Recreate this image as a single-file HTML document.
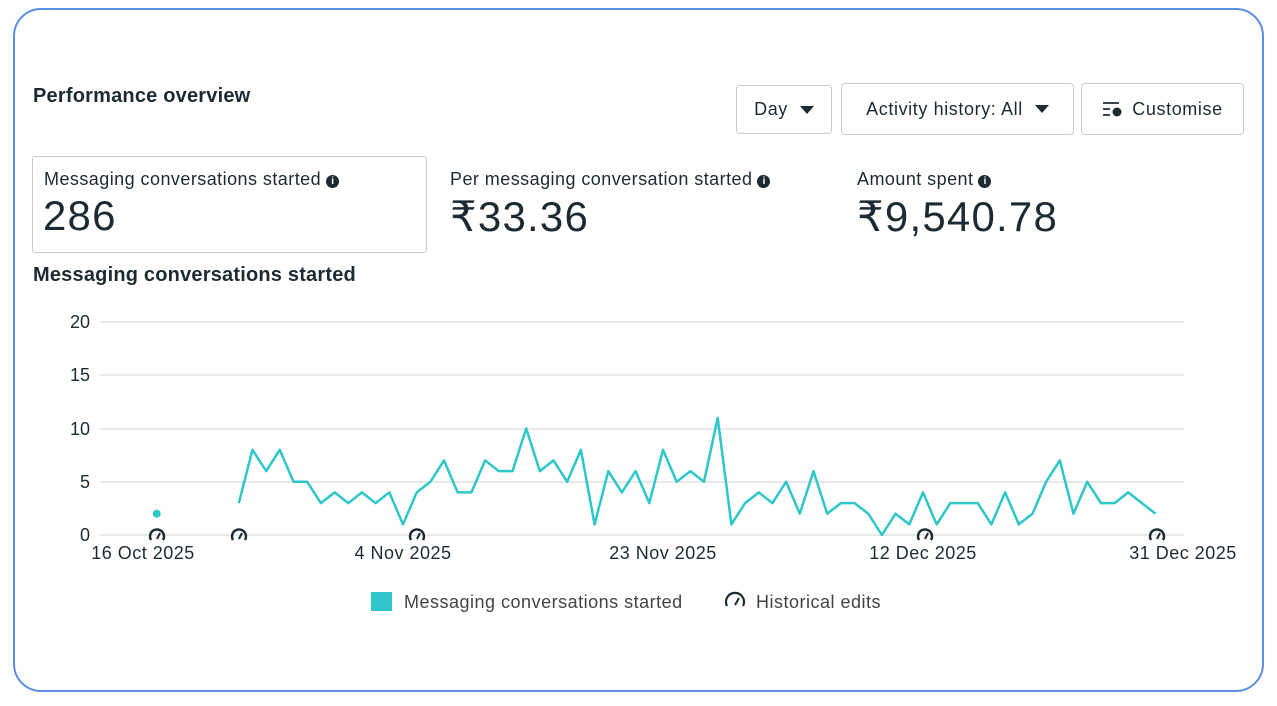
<!DOCTYPE html>
<html><head><meta charset="utf-8"><style>
body{margin:0;width:1277px;height:706px;background:#fff;font-family:"Liberation Sans",sans-serif;position:relative;overflow:hidden;color:#1c2b33}
.frame{position:absolute;left:13px;top:8px;width:1247px;height:680px;border:2.5px solid #5b8ee6;border-radius:28px}
.t{position:absolute;white-space:nowrap}
.btn{position:absolute;border:1px solid #c8ccd0;border-radius:4px;height:49px;box-sizing:border-box;font-size:18px;letter-spacing:0.6px;display:flex;align-items:center;justify-content:center;color:#1c2b33}
.tri{display:inline-block;width:0;height:0;border-left:7px solid transparent;border-right:7px solid transparent;border-top:8px solid #1c2b33;margin-left:12px}
.i{display:inline-block;width:13px;height:13px;border-radius:50%;background:#1c2b33;color:#fff;font-size:10px;text-align:center;line-height:13px;font-weight:bold;vertical-align:1px;margin-left:5px;letter-spacing:0}
.lab{font-size:18px;letter-spacing:0.45px}
.big{font-size:42px;letter-spacing:1.2px}
.ttl{font-size:20px;font-weight:bold;letter-spacing:0.2px}
</style></head><body>
<div class="frame"></div>
<div class="t ttl" style="left:33px;top:85px">Performance overview</div>
<div class="btn" style="left:736px;top:85px;width:96px">Day<span class="tri"></span></div>
<div class="btn" style="left:841px;top:83px;width:233px;height:52px">Activity history: All<span class="tri"></span></div>
<div class="btn" style="left:1081px;top:83px;width:163px;height:52px"><svg width="22" height="16" style="margin-right:8px"><path d="M1 2h16M1 8h7M1 14h7" stroke="#1c2b33" stroke-width="1.8"/><circle cx="15" cy="11" r="4.5" fill="#1c2b33"/></svg>Customise</div>
<div style="position:absolute;left:32px;top:156px;width:395px;height:97px;border:1px solid #c8ccd0;border-radius:3px;box-sizing:border-box"></div>
<div class="t lab" style="left:44px;top:169px">Messaging conversations started<span class="i">i</span></div>
<div class="t big" style="left:43px;top:192px">286</div>
<div class="t lab" style="left:450px;top:169px">Per messaging conversation started<span class="i">i</span></div>
<div class="t big" style="left:450px;top:192px">₹33.36</div>
<div class="t lab" style="left:857px;top:169px">Amount spent<span class="i">i</span></div>
<div class="t big" style="left:857px;top:192px">₹9,540.78</div>
<div class="t ttl" style="left:33px;top:264px">Messaging conversations started</div>
<svg id="c" width="1277" height="706" style="position:absolute;left:0;top:0" font-family="Liberation Sans, sans-serif">
<g stroke="#e6e8ea" stroke-width="2">
<line x1="100" x2="1184" y1="322" y2="322"/><line x1="100" x2="1184" y1="375" y2="375"/><line x1="100" x2="1184" y1="429" y2="429"/><line x1="100" x2="1184" y1="482" y2="482"/><line x1="100" x2="1184" y1="535" y2="535"/>
</g>
<g font-size="18" fill="#1c2b33" text-anchor="end">
<text x="90" y="328">20</text><text x="90" y="381">15</text><text x="90" y="435">10</text><text x="90" y="488">5</text><text x="90" y="541">0</text>
</g>
<g font-size="18" fill="#1c2b33" text-anchor="middle" letter-spacing="0.5">
<text x="143" y="559">16 Oct 2025</text><text x="403" y="559">4 Nov 2025</text><text x="663" y="559">23 Nov 2025</text><text x="923" y="559">12 Dec 2025</text><text x="1183" y="559">31 Dec 2025</text>
</g>
<circle cx="156.7" cy="513.7" r="4" fill="#2ec7c9"/>
<polyline id="pl" fill="none" stroke="#2ec7c9" stroke-width="2.5" stroke-linejoin="round"/>
<g id="ic"></g>
<rect x="371" y="592" width="21" height="19" fill="#2ec7c9"/>
<text x="404" y="608" font-size="18" letter-spacing="0.5" fill="#444">Messaging conversations started</text>
<g transform="translate(735,601)"><path d="M-8 5 A9 9 0 1 1 8 5" fill="none" stroke="#1c2b33" stroke-width="2.2"/><path d="M0 4 L4 -3" stroke="#1c2b33" stroke-width="2"/></g>
<text x="756" y="608" font-size="18" letter-spacing="0.5" fill="#444">Historical edits</text>
</svg>
<script>
var v=[3,8,6,8,5,5,3,4,3,4,3,4,1,4,5,7,4,4,7,6,6,10,6,7,5,8,1,6,4,6,3,8,5,6,5,11,1,3,4,3,5,2,6,2,3,3,2,0,2,1,4,1,3,3,3,1,4,1,2,5,7,2,5,3,3,4,3,2];
var p=v.map(function(y,i){return (143+(i+7)*13.684).toFixed(1)+","+(535-y*10.65).toFixed(1)}).join(" ");
document.getElementById("pl").setAttribute("points",p);
var g="";[157,239,417,925,1157].forEach(function(x){g+='<g transform="translate('+x+',535)"><path d="M-6 5 A7 7 0 1 1 6 5" fill="none" stroke="#1c2b33" stroke-width="2.4"/><path d="M0 4 L3 -2" stroke="#1c2b33" stroke-width="2"/></g>'});
document.getElementById("ic").innerHTML=g;
</script>
</body></html>
